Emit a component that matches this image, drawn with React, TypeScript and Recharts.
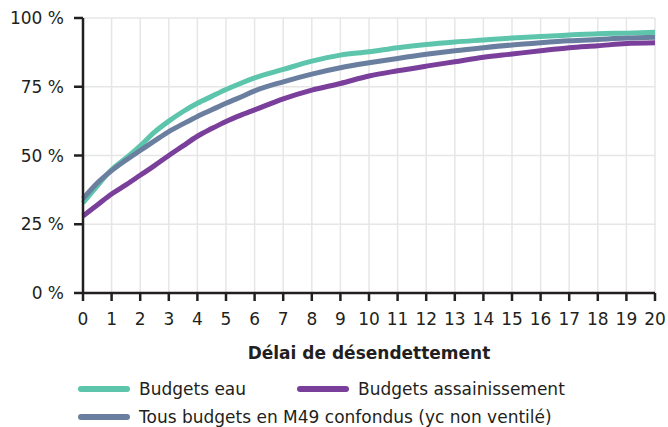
import { CartesianGrid, Legend, Line, LineChart, XAxis, YAxis } from "recharts"

// délai de désendettement (années)
const delais = [0, 0.5, 1, 1.5, 2, 2.5, 3, 3.5, 4, 4.5, 5, 5.5, 6, 7, 8, 9, 10, 11, 12, 13, 14, 15, 16, 17, 18, 19, 20]

// part cumulée des budgets (%)
const budgetsEau = [32.8, 39.0, 44.8, 49.0, 53.5, 58.5, 62.5, 66.0, 69.0, 71.5, 74.0, 76.2, 78.2, 81.3, 84.3, 86.5, 87.7, 89.2, 90.4, 91.3, 92.0, 92.7, 93.3, 93.8, 94.3, 94.5, 94.8]
const budgetsAssainissement = [28.0, 32.0, 36.0, 39.3, 42.8, 46.3, 50.0, 53.5, 57.0, 59.8, 62.4, 64.6, 66.6, 70.6, 73.8, 76.2, 78.9, 80.8, 82.5, 84.1, 85.7, 86.9, 88.1, 89.2, 89.9, 90.7, 91.0]
const tousBudgets = [34.3, 40.0, 44.5, 48.3, 51.8, 55.3, 58.7, 61.5, 64.2, 66.6, 69.0, 71.2, 73.5, 76.8, 79.6, 81.9, 83.7, 85.3, 86.8, 88.1, 89.2, 90.2, 91.0, 91.7, 92.2, 92.7, 93.0]

const xTicks = [0, 1, 2, 3, 4, 5, 6, 7, 8, 9, 10, 11, 12, 13, 14, 15, 16, 17, 18, 19, 20]
const yTicks = [0, 25, 50, 75, 100]

const series = [
  { key: "eau", name: "Budgets eau", color: "#5cc5ac" },
  { key: "assainissement", name: "Budgets assainissement", color: "#7a3e9b" },
  { key: "tous", name: "Tous budgets en M49 confondus (yc non ventilé)", color: "#6a7f9f" },
]

const data = delais.map((d, i) => ({
  delai: d,
  eau: budgetsEau[i],
  assainissement: budgetsAssainissement[i],
  tous: tousBudgets[i],
}))

const FONT = "'DejaVu Sans', sans-serif"
const AXIS = "#231f20"

function LegendItem({ name, color }: { name: string; color: string }) {
  return (
    <div style={{ display: "flex", alignItems: "center" }}>
      <div style={{ width: 52, height: 6, borderRadius: 3, background: color, marginRight: 9 }} />
      <span style={{ fontSize: 17, color: AXIS, whiteSpace: "nowrap" }}>{name}</span>
    </div>
  )
}

function CustomLegend() {
  return (
    <div style={{ fontFamily: FONT, paddingLeft: 78, paddingTop: 10 }}>
      <div style={{ display: "flex", height: 28, alignItems: "center" }}>
        <div style={{ width: 219 }}>
          <LegendItem name={series[0].name} color={series[0].color} />
        </div>
        <LegendItem name={series[1].name} color={series[1].color} />
      </div>
      <div style={{ display: "flex", height: 28, alignItems: "center" }}>
        <LegendItem name={series[2].name} color={series[2].color} />
      </div>
    </div>
  )
}

export default function App() {
  return (
    <div style={{ width: 668, height: 427, background: "#fff" }}>
      <style>{"body{margin:0}"}</style>
      <LineChart width={668} height={427} data={data} margin={{ top: 18, right: 13, left: 0, bottom: 0 }}>
        <CartesianGrid stroke="#e6e6e6" strokeWidth={1.5} />
        <XAxis
          dataKey="delai"
          type="number"
          domain={[0, 20]}
          ticks={xTicks}
          interval={0}
          height={72}
          stroke={AXIS}
          strokeWidth={2.5}
          tickSize={8}
          tickMargin={12}
          tick={{ fill: AXIS, fontSize: 17, fontFamily: FONT }}
          label={{
            value: "Délai de désendettement",
            position: "insideBottom",
            offset: 6,
            style: { fill: AXIS, fontSize: 17, fontWeight: 700, fontFamily: FONT },
          }}
        />
        <YAxis
          domain={[0, 100]}
          ticks={yTicks}
          width={83}
          stroke={AXIS}
          strokeWidth={2.5}
          tickSize={9}
          tickMargin={10}
          tickFormatter={(v) => `${v} %`}
          tick={{ fill: AXIS, fontSize: 17, fontFamily: FONT }}
        />
        <Legend verticalAlign="bottom" height={62} content={<CustomLegend />} />
        <Line type="monotone" dataKey="eau" name={series[0].name} stroke={series[0].color} strokeWidth={5} dot={false} isAnimationActive={false} />
        <Line type="monotone" dataKey="assainissement" name={series[1].name} stroke={series[1].color} strokeWidth={5} dot={false} isAnimationActive={false} />
        <Line type="monotone" dataKey="tous" name={series[2].name} stroke={series[2].color} strokeWidth={5} dot={false} isAnimationActive={false} />
      </LineChart>
    </div>
  )
}
